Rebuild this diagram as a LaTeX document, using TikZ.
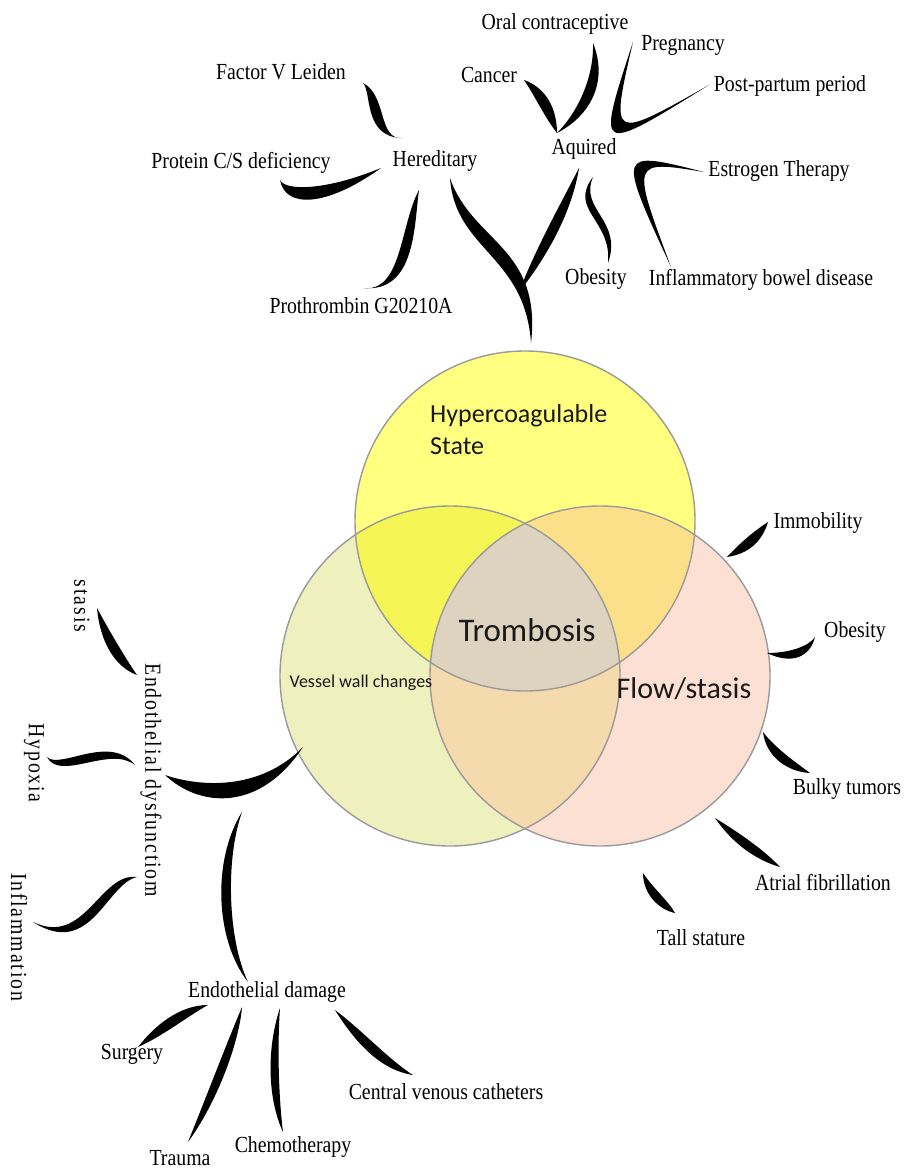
\documentclass[tikz,border=0pt]{standalone}
\usepackage{fontspec}
\setmainfont{Liberation Serif}[FakeStretch=0.86]
\newfontfamily\vennfont{Carlito}
\newfontfamily\spacedfont{Liberation Serif}[FakeStretch=0.86,LetterSpace=8]
\usetikzlibrary{calc}
\definecolor{hypyellow}{HTML}{FFFF80}
\definecolor{vesgreen}{HTML}{EEF0BE}
\definecolor{flowpink}{HTML}{FDE0D4}
\definecolor{hypves}{HTML}{F5F555}
\definecolor{hypflow}{HTML}{FBE089}
\definecolor{vesflow}{HTML}{F5DAAE}
\definecolor{trombo}{HTML}{DDD3BF}
\definecolor{vennline}{HTML}{9A9A9A}

% tapered brush stroke: start, control, control, end, shift of the return side
\newcommand{\inkstroke}[5]{%
  \fill[ink] (#1) .. controls (#2) and (#3) .. (#4)
    .. controls ($(#3)+(#5)$) and ($(#2)+(#5)$) .. (#1) -- cycle;}
\def\vennr{170pt}

\begin{document}
\begin{tikzpicture}[x=1pt,y=-1pt,
  cause/.style={font=\fontsize{23}{25}\selectfont,inner sep=0pt},
  sidecause/.style={font=\spacedfont\fontsize{23}{25}\selectfont,inner sep=0pt,rotate=-90},
  vennlbl/.style={inner sep=0pt,text=black!90},
  ink/.style={fill=black},
  vennedge/.style={draw=vennline,line width=1.4pt}
]
\useasboundingbox (0,0) rectangle (905,1172);

% ---- Venn circles ------------------------------------------
\coordinate (hypc)  at (525,521);
\coordinate (vesc)  at (450,676);
\coordinate (flowc) at (600,676);

\fill[hypyellow] (hypc)  circle[radius=\vennr];
\fill[vesgreen]  (vesc)  circle[radius=\vennr];
\fill[flowpink]  (flowc) circle[radius=\vennr];
\begin{scope}
  \clip (hypc) circle[radius=\vennr];
  \fill[hypves]  (vesc)  circle[radius=\vennr];
  \fill[hypflow] (flowc) circle[radius=\vennr];
\end{scope}
\begin{scope}
  \clip (vesc) circle[radius=\vennr];
  \fill[vesflow] (flowc) circle[radius=\vennr];
  \clip (hypc) circle[radius=\vennr];
  \fill[trombo]  (flowc) circle[radius=\vennr];
\end{scope}
\draw[vennedge] (hypc)  circle[radius=\vennr];
\draw[vennedge] (vesc)  circle[radius=\vennr];
\draw[vennedge] (flowc) circle[radius=\vennr];

\node[vennlbl,font=\vennfont\fontsize{26}{32}\selectfont,align=left,anchor=north west]
  (hyperlbl) at (430,404) {Hypercoagulable\\State};
\node[vennlbl,font=\vennfont\fontsize{33}{36}\selectfont] (trombosis) at (527,630) {Trombosis};
\node[vennlbl,font=\vennfont\fontsize{30}{34}\selectfont] (flow) at (684,689) {Flow/stasis};
\node[vennlbl,font=\vennfont\fontsize{18}{20}\selectfont] (vessel) at (361,683) {Vessel wall changes};

% ---- Hypercoagulable causes ---------------------------------
\node[cause] (factor)   at (281,72)  {Factor V Leiden};
\node[cause] (oral)     at (555,24)  {Oral contraceptive};
\node[cause] (pregn)    at (683,45)  {Pregnancy};
\node[cause] (cancer)   at (489,75)  {Cancer};
\node[cause] (postp)    at (790,86)  {Post-partum period};
\node[cause] (hered)    at (435,161) {Hereditary};
\node[cause] (aquired)  at (584,149) {Aquired};
\node[cause] (protein)  at (241,163) {Protein C/S deficiency};
\node[cause] (estrogen) at (779,171) {Estrogen Therapy};
\node[cause] (obesA)    at (596,279) {Obesity};
\node[cause] (ibd)      at (761,280) {Inflammatory bowel disease};
\node[cause] (prothr)   at (361,306) {Prothrombin G20210A};

\inkstroke{363,83}{387,95}{378,140}{402,138}{-15,-3}
\inkstroke{280,180}{285,208}{325,208}{381,168}{0,-17}
\inkstroke{363,288}{402,293}{400,225}{419,190}{14,0}
\inkstroke{450,178}{455,250}{525,255}{531,343}{17,-8}
\inkstroke{579,168}{560,205}{535,250}{519,292}{12,7}
\inkstroke{524,80}{547,88}{557,110}{557,133}{-12,8}
\inkstroke{593,43}{608,80}{592,115}{557,133}{-14,-3}
\inkstroke{633,42}{596,155}{596,155}{709,85}{14,-14}
\inkstroke{704,172}{617,150}{617,150}{671,267}{14,10}
\inkstroke{593,177}{568,210}{612,220}{608,263}{11,0}

% ---- Vessel wall causes ------------------------------------
\node[sidecause] (stasis)  at (82,606)  {stasis};
\node[sidecause] (endodys) at (151,780) {Endothelial dysfunctiom};
\node[sidecause] (hypoxia) at (34,763)  {Hypoxia};
\node[sidecause] (inflam)  at (19,937)  {Inflammation};
\node[cause] (endodam) at (267,992)  {Endothelial damage};
\node[cause] (surgery) at (132,1054) {Surgery};
\node[cause] (trauma)  at (180,1158) {Trauma};
\node[cause] (chemo)   at (293,1147) {Chemotherapy};
\node[cause] (cvc)     at (446,1092) {Central venous catheters};

\inkstroke{97,608}{100,642}{115,667}{137,675}{11,-8}
\inkstroke{47,757}{60,782}{110,745}{135,765}{0,-12}
\inkstroke{165,775}{200,808}{260,812}{303,747}{0,-21}
\inkstroke{242,812}{212,860}{215,940}{248,982}{13,0}
\inkstroke{137,877}{100,872}{85,947}{33,922}{6,12}
\inkstroke{208,1005}{180,1005}{155,1025}{138,1047}{8,11}
\inkstroke{242,1007}{228,1040}{205,1100}{188,1142}{11,4}
\inkstroke{280,1008}{266,1050}{268,1100}{283,1132}{11,0}
\inkstroke{335,1010}{355,1042}{380,1070}{413,1075}{8,-11}

% ---- Flow/stasis causes ------------------------------------
\node[cause] (immob)  at (818,523) {Immobility};
\node[cause] (obesB)  at (855,632) {Obesity};
\node[cause] (bulky)  at (847,789) {Bulky tumors};
\node[cause] (atrial) at (823,883) {Atrial fibrillation};
\node[cause] (tall)   at (701,938) {Tall stature};

\inkstroke{727,557}{748,554}{762,542}{768,522}{-8,-11}
\inkstroke{767,653}{792,665}{810,657}{815,637}{0,-12}
\inkstroke{763,732}{766,757}{788,772}{810,773}{10,-8}
\inkstroke{715,818}{733,844}{756,860}{780,867}{8,-10}
\inkstroke{643,873}{643,895}{660,910}{675,913}{10,-7}

\end{tikzpicture}
\end{document}
